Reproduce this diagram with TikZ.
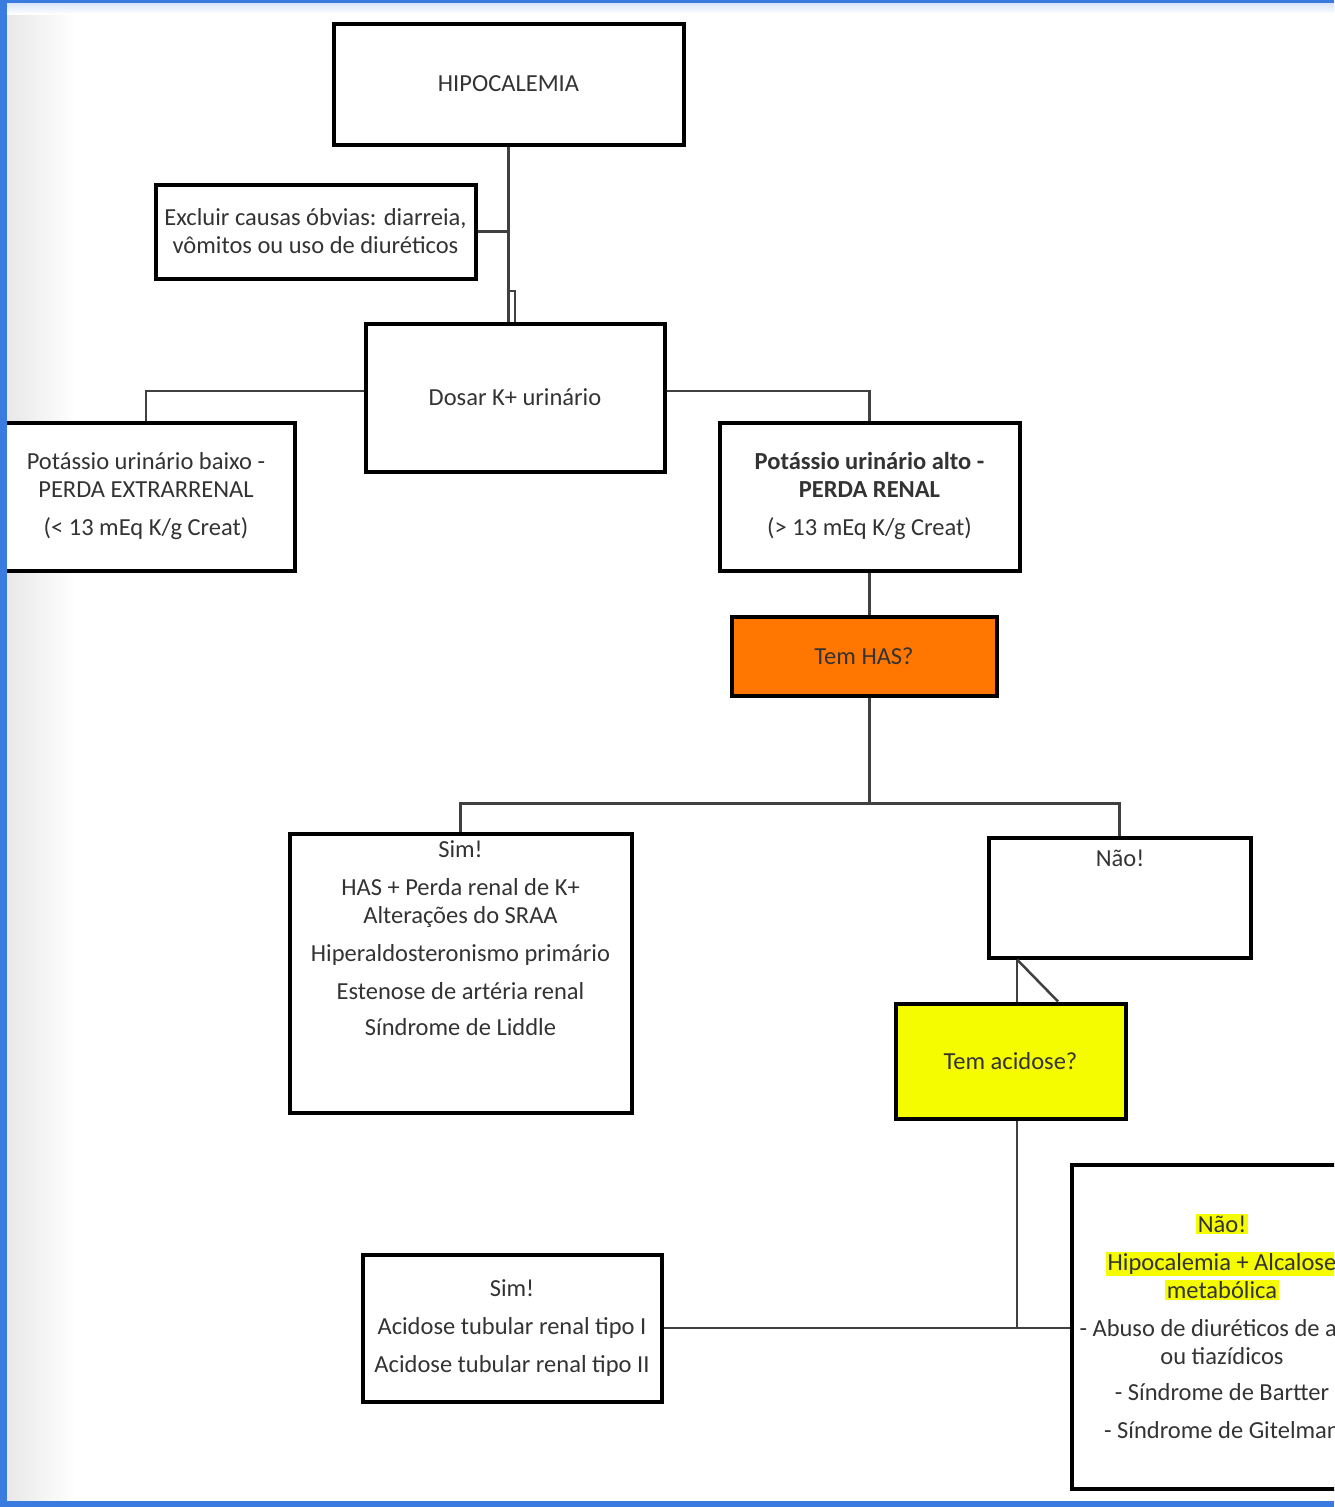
\documentclass[tikz,border=0pt]{standalone}
\usepackage{fontspec}
\setmainfont{Carlito}
\usepackage{tikz}
\usetikzlibrary{positioning,calc}
\definecolor{hasorange}{HTML}{FF7600}
\definecolor{acidyellow}{HTML}{F5FC00}
\definecolor{framblue}{HTML}{3A7BE0}
\newcommand{\fsz}{\fontsize{24.5pt}{28pt}\selectfont}
\newcommand{\hl}[1]{{\fboxsep=1.5pt\colorbox{acidyellow}{#1}}}
\tikzset{
  box/.style={draw=black,line width=4pt,fill=white,inner sep=0pt,
    align=center,font=\fsz,text=black!80},
  txt/.style={inner sep=0pt,align=center,font=\fsz,text=black!80},
  link/.style={draw=black!75,line width=2.5pt},
}

\begin{document}
\begin{tikzpicture}[x=1pt,y=-1pt]
  \clip (0,0) rectangle (1334,1507);
  \fill[white] (0,0) rectangle (1334,1507);
  \shade[left color=black!9,right color=white] (7,0) rectangle (75,1507);
  \shade[top color=framblue!20,bottom color=white] (0,3) rectangle (1334,14);
  % boxes
  \node[box,minimum width=350pt,minimum height=121pt] (hipo) at (508.5,84) {HIPOCALEMIA};
  \node[box,minimum width=320pt,minimum height=94pt] (excl) at (315.5,231.5)
    {Excluir causas óbvias: diarreia,\\ vômitos ou uso de diuréticos};
  \node[box,minimum width=299pt,minimum height=148pt] (dosar) at (515,397.5) {Dosar K+ urinário};
  \node[box,minimum width=297pt,minimum height=148pt] (baixo) at (146,496.5)
    {Potássio urinário baixo -\\ PERDA EXTRARRENAL\\[10pt] (< 13 mEq K/g Creat)};
  \node[box,minimum width=300pt,minimum height=148pt] (alto) at (869.5,496.5)
    {\textbf{Potássio urinário alto -}\\ \textbf{PERDA RENAL}\\[10pt] (> 13 mEq K/g Creat)};
  \node[box,fill=hasorange,minimum width=265pt,minimum height=79pt] (has) at (864,656) {Tem HAS?};
  \node[box,minimum width=342pt,minimum height=279pt] (sim) at (460.5,973) {};
  \node[txt] (simtxt) at (460.5,938) {Sim!\\[10pt] HAS + Perda renal de K+\\ Alterações do SRAA\\[10pt]
    Hiperaldosteronismo primário\\[10pt] Estenose de artéria renal\\[8pt] Síndrome de Liddle};
  \node[box,minimum width=262pt,minimum height=120pt] (nao) at (1119.5,897.5) {};
  \node[txt] (naotxt) at (1120,858) {Não!};
  \node[box,fill=acidyellow,minimum width=230pt,minimum height=115pt] (acid) at (1010.5,1061) {Tem acidose?};
  \node[box,minimum width=299pt,minimum height=147pt] (sim2) at (512,1328)
    {Sim!\\[10pt] Acidose tubular renal tipo I\\[10pt] Acidose tubular renal tipo II};
  \node[box,minimum width=300pt,minimum height=324pt] (nao2) at (1222,1326.5)
    {\hl{Não!}\\[10pt] \hl{Hipocalemia + Alcalose}\\ \hl{metabólica}\\[10pt]
     - Abuso de diuréticos de alça\\ ou tiazídicos\\[8pt] - Síndrome de Bartter\\[10pt]
     - Síndrome de Gitelman};
  % connectors
  \draw[link] (hipo.south) -- (hipo.south |- dosar.north);
  \draw[link] (hipo.south |- 0,291) -| (dosar.north);
  \draw[link] (excl.east) -- (excl.east -| hipo.south);
  \draw[link] ([yshift=6.5pt]dosar.west) -| (baixo.north);
  \draw[link] ([yshift=6.5pt]dosar.east) -| (alto.north);
  \draw[link] (alto.south) -- (alto.south |- has.north);
  \coordinate (hasbot) at (alto.south |- has.south);
  \draw[link] (hasbot) -- ++(0,106) coordinate (split);
  \draw[link] (split) -| (sim.north);
  \draw[link] (split) -| (nao.north);
  \coordinate (nbot) at ([xshift=-102.5pt]nao.south);
  \draw[link] (nbot) -- (nbot |- acid.north);
  \draw[link] (nbot) -- ([xshift=47.5pt]acid.north);
  \draw[link] ([xshift=6.5pt]acid.south) -- ([xshift=6.5pt]acid.south |- sim2.east) coordinate (join);
  \draw[link] (join) -- (sim2.east);
  \draw[link] (join) -- (join -| nao2.west);
  % frame
  \fill[framblue] (0,0) rectangle (7,1507);
  \fill[framblue] (0,0) rectangle (1334,3);
  \fill[framblue] (0,1501) rectangle (1334,1507);
\end{tikzpicture}
\end{document}
